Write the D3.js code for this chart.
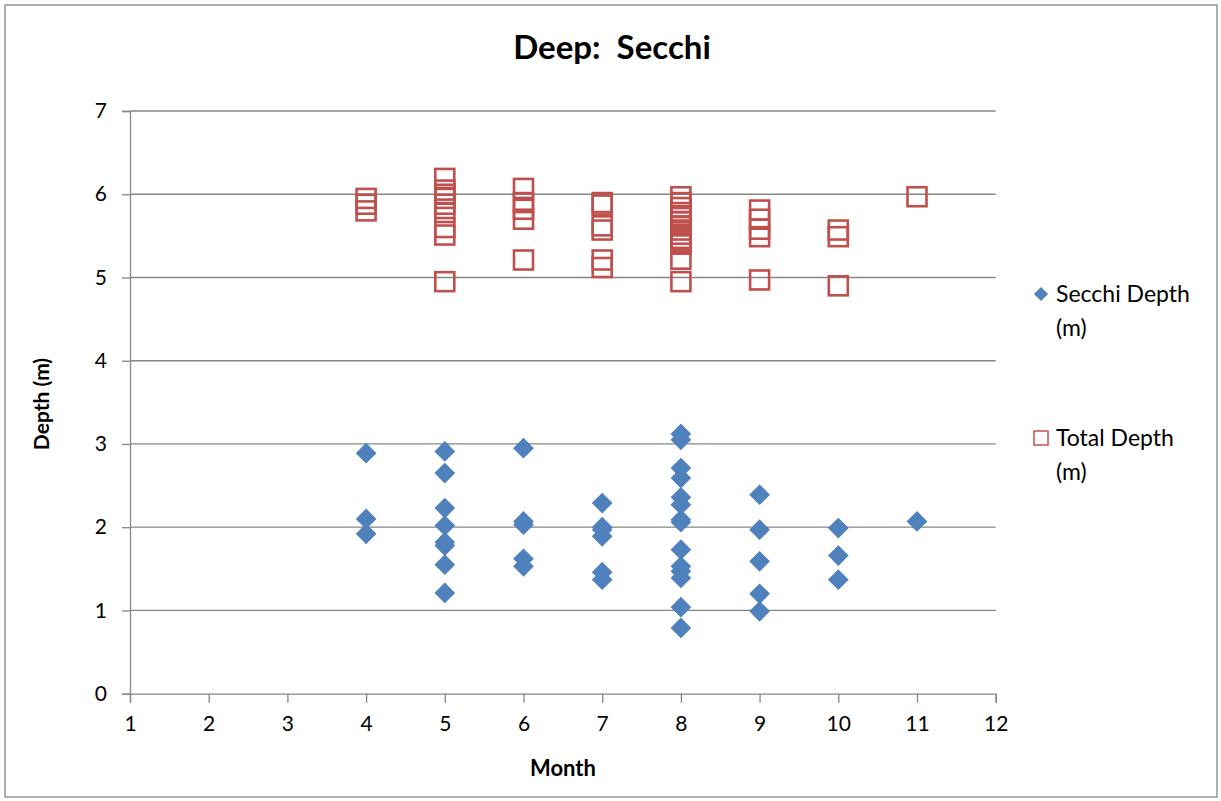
<!DOCTYPE html>
<html>
<head>
<meta charset="utf-8">
<script src="https://cdn.jsdelivr.net/npm/d3@7"></script>
<style>
  body { margin: 0; background: #fff; }
  svg text { font-family: Lato, "Open Sans", sans-serif; fill: #000; }
</style>
</head>
<body>
<script>
	// Secchi depth samples (month, depth in m)
	var secchiMonth = [4, 4, 4,
		5, 5, 5, 5, 5, 5, 5, 5,
		6, 6, 6, 6, 6,
		7, 7, 7, 7, 7, 7,
		8, 8, 8, 8, 8, 8, 8, 8, 8, 8, 8, 8, 8, 8,
		9, 9, 9, 9, 9,
		10, 10, 10,
		11];
	var secchiDepth = [2.89, 2.10, 1.92,
		2.91, 2.65, 2.23, 2.02, 1.82, 1.78, 1.55, 1.21,
		2.95, 2.07, 2.03, 1.62, 1.53,
		2.29, 2.00, 1.97, 1.89, 1.46, 1.37,
		3.12, 3.05, 2.71, 2.59, 2.36, 2.27, 2.09, 2.06, 1.73, 1.53, 1.47, 1.39, 1.04, 0.79,
		2.39, 1.97, 1.59, 1.20, 0.99,
		1.99, 1.66, 1.37,
		2.07];

	// Total depth samples
	var totalMonth = [4, 4, 4,
		5, 5, 5, 5, 5, 5, 5, 5, 5,
		6, 6, 6, 6, 6,
		7, 7, 7, 7, 7, 7,
		8, 8, 8, 8, 8, 8, 8, 8, 8, 8, 8, 8, 8, 8,
		9, 9, 9, 9, 9,
		10, 10, 10,
		11];
	var totalDepth = [5.95, 5.88, 5.80,
		6.19, 6.05, 6.00, 5.95, 5.88, 5.78, 5.60, 5.51, 4.95,
		6.07, 5.90, 5.82, 5.70, 5.21,
		5.90, 5.87, 5.62, 5.57, 5.21, 5.12,
		5.97, 5.90, 5.84, 5.78, 5.72, 5.67, 5.62, 5.57, 5.52, 5.47, 5.42, 5.40, 5.22, 4.95,
		5.81, 5.70, 5.58, 5.49, 4.97,
		5.57, 5.49, 4.90,
		5.97];

	var xTicks = [1, 2, 3, 4, 5, 6, 7, 8, 9, 10, 11, 12];
	var yTicks = [0, 1, 2, 3, 4, 5, 6, 7];
	var seriesNames = ["Secchi Depth", "Total Depth"];

	var blue = "#4f81bd", red = "#c0504d", grey = "#868686";

	var width = 1221, height = 801;
	var margin = {left: 130, top: 111, right: 225, bottom: 107};

	var svg = d3.select("body").append("svg")
		.attr("width", width)
		.attr("height", height);

	// outer chart frame
	svg.append("rect")
		.attr("x", 5).attr("y", 5)
		.attr("width", 1212).attr("height", 792)
		.attr("fill", "#fff")
		.attr("stroke", grey)
		.attr("stroke-width", 1.3);

	var x = d3.scaleLinear().domain([1, 12]).range([margin.left, width - margin.right - 0.3]);
	var y = d3.scaleLinear().domain([0, 7]).range([height - margin.bottom - 0.3, margin.top]);

	// gridlines
	svg.append("g")
		.selectAll("line")
		.data(yTicks.slice(1))
		.enter().append("line")
		.attr("x1", x(1)).attr("x2", x(12))
		.attr("y1", function(d) { return y(d); })
		.attr("y2", function(d) { return y(d); })
		.attr("stroke", grey)
		.attr("stroke-width", 1.3);

	var xAxis = svg.append("g")
		.attr("transform", "translate(0," + y(0) + ")")
		.call(d3.axisBottom(x).tickValues(xTicks).tickSize(9).tickPadding(13).tickFormat(d3.format("d")));

	var yAxis = svg.append("g")
		.attr("transform", "translate(" + x(1) + ",0)")
		.call(d3.axisLeft(y).tickValues(yTicks).tickSize(8).tickPadding(15).tickFormat(d3.format("d")));

	[xAxis, yAxis].forEach(function(a) {
		a.select(".domain").attr("stroke", grey).attr("stroke-width", 1.3);
		a.selectAll(".tick line").attr("stroke", grey).attr("stroke-width", 1.3);
		a.selectAll(".tick text").style("font-size", "21px").attr("fill", "#000");
	});

	// Total depth: hollow squares
	var sq = 19;
	svg.append("g")
		.selectAll("rect")
		.data(totalDepth)
		.enter().append("rect")
		.attr("x", function(d, i) { return x(totalMonth[i]) - sq / 2; })
		.attr("y", function(d) { return y(d) - sq / 2; })
		.attr("width", sq).attr("height", sq)
		.attr("fill", "none")
		.attr("stroke", red)
		.attr("stroke-width", 2.6);

	// Secchi depth: diamonds
	var diamond = d3.symbol().type(d3.symbolSquare).size(215);
	svg.append("g")
		.selectAll("path")
		.data(secchiDepth)
		.enter().append("path")
		.attr("d", diamond)
		.attr("transform", function(d, i) {
			return "translate(" + x(secchiMonth[i]) + "," + y(d) + ") rotate(45)";
		})
		.attr("fill", blue);

	// title and axis titles
	svg.append("text")
		.attr("x", 612).attr("y", 59)
		.attr("text-anchor", "middle")
		.style("font-size", "33px").style("font-weight", "bold")
		.style("white-space", "pre")
		.text("Deep:  Secchi");

	svg.append("text")
		.attr("x", 563).attr("y", 776)
		.attr("text-anchor", "middle")
		.style("font-size", "22px").style("font-weight", "bold")
		.text("Month");

	svg.append("text")
		.attr("transform", "translate(49,404) rotate(-90)")
		.attr("text-anchor", "middle")
		.style("font-size", "21px").style("font-weight", "bold")
		.text("Depth (m)");

	// legend
	var legend = svg.append("g");
	legend.append("path")
		.attr("d", d3.symbol().type(d3.symbolSquare).size(100))
		.attr("transform", "translate(1041,294) rotate(45)")
		.attr("fill", blue);
	legend.append("rect")
		.attr("x", 1034).attr("y", 431)
		.attr("width", 14).attr("height", 14)
		.attr("fill", "none").attr("stroke", red).attr("stroke-width", 1.5);

	[294, 438].forEach(function(cy, i) {
		var t = legend.append("text")
			.attr("x", 1056).attr("y", cy + 8)
			.style("font-size", "23px");
		t.append("tspan").text(seriesNames[i]);
		t.append("tspan").attr("x", 1056).attr("dy", 34).text("(m)");
	});
</script>
</body>
</html>
